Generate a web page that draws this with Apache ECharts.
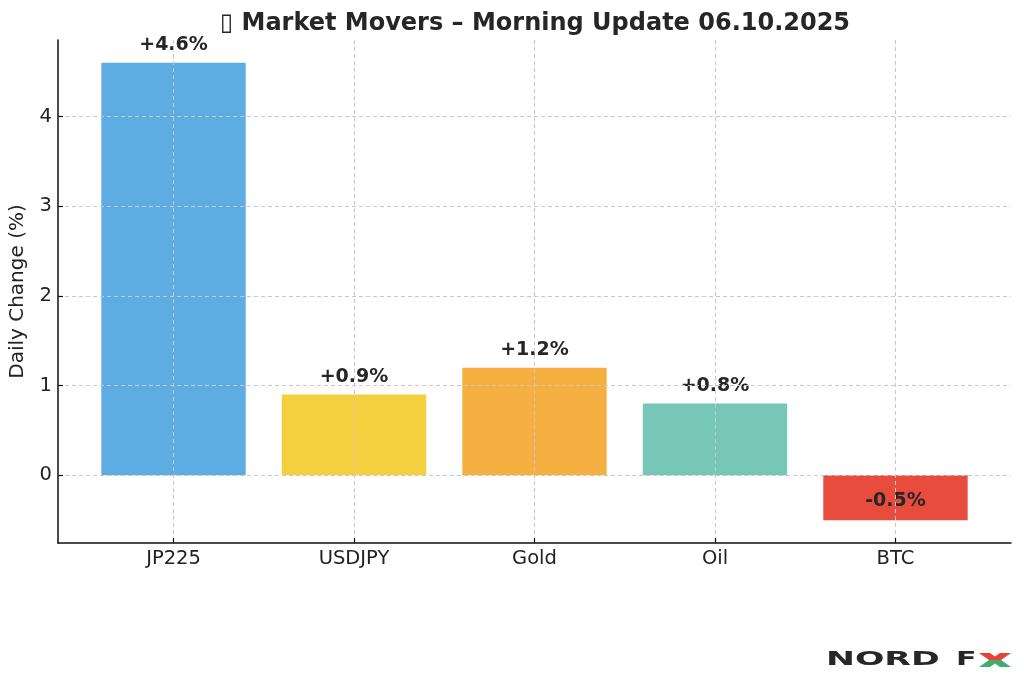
<!DOCTYPE html>
<html>
<head>
<meta charset="utf-8">
<script src="https://cdn.jsdelivr.net/npm/echarts@6/dist/echarts.min.js"></script>
<style>
html,body{margin:0;padding:0;background:#fff;}
#chart{width:1024px;height:681px;}
</style>
</head>
<body>
<div id="chart"></div>
<script>
const titleText = '\u25AF Market Movers – Morning Update 06.10.2025';
const categories = ['JP225', 'USDJPY', 'Gold', 'Oil', 'BTC'];
const values = [4.6, 0.9, 1.2, 0.8, -0.5];
const colors = ['#5DADE2', '#F4D03F', '#F5B041', '#76C7B7', '#E74C3C'];
const yTicks = [0, 1, 2, 3, 4];
const xTicks = [0, 1, 2, 3, 4];

const font = 'DejaVu Sans';
const chart = echarts.init(document.getElementById('chart'));

const data = values.map((v, i) => ({
  value: [i, v],
  itemStyle: { color: colors[i], opacity: 1 },
  label: {
    position: v >= 0 ? 'top' : 'inside',
    distance: 8,
    offset: v >= 0 ? [0, 0] : [0, 3]
  }
}));

chart.setOption({
  animation: false,
  backgroundColor: '#ffffff',
  title: {
    text: titleText,
    left: 530,
    textAlign: 'center',
    top: 7,
    textStyle: { fontFamily: font, fontWeight: 'bold', fontSize: 24, color: '#262626' }
  },
  grid: { left: 57, right: 13, top: 40, bottom: 138 },
  xAxis: {
    type: 'value',
    min: -0.64,
    max: 4.64,
    axisLine: { show: true, onZero: false, lineStyle: { color: '#111', width: 1.5 } },
    axisTick: { show: true, inside: true, customValues: xTicks, length: 5, lineStyle: { color: '#111', width: 1.2 } },
    axisLabel: {
      customValues: xTicks,
      formatter: v => categories[Math.round(v)] || '',
      fontFamily: font, fontSize: 19.5, color: '#222', margin: 6
    },
    splitLine: { show: true, lineStyle: { color: '#c8c8c8', type: [4, 3], width: 1 } },
    z: 5
  },
  yAxis: {
    type: 'value',
    min: -0.755,
    max: 4.855,
    name: 'Daily Change (%)',
    nameLocation: 'middle',
    nameGap: 30,
    nameTextStyle: { fontFamily: font, fontSize: 20, color: '#222' },
    axisLine: { show: true, onZero: false, lineStyle: { color: '#111', width: 1.5 } },
    axisTick: { show: true, inside: true, customValues: yTicks, length: 5, lineStyle: { color: '#111', width: 1.2 } },
    axisLabel: {
      customValues: yTicks,
      fontFamily: font, fontSize: 19.5, color: '#222', margin: 6
    },
    splitLine: { show: true, lineStyle: { color: '#c8c8c8', type: [4, 3], width: 1 } },
    z: 5
  },
  series: [{
    type: 'bar',
    barWidth: '80%',
    data: data,
    z: 1,
    label: {
      show: true,
      formatter: p => (p.value[1] > 0 ? '+' : '') + p.value[1].toFixed(1) + '%',
      fontFamily: font, fontWeight: 'bold', fontSize: 19, color: '#262626'
    }
  }],
  graphic: [
    {
      type: 'text', x: 826, y: 660, scaleX: 1.73,
      style: { text: 'NORD', font: 'bold 20px "DejaVu Sans"', fill: '#26262c', verticalAlign: 'middle' }
    },
    {
      type: 'text', x: 956, y: 660, scaleX: 1.5,
      style: { text: 'F', font: 'bold 20px "DejaVu Sans"', fill: '#26262c', verticalAlign: 'middle' }
    },
    {
      type: 'polygon',
      shape: { points: [[979, 653], [990, 653], [995, 656.5], [1000, 653], [1011, 653], [1001, 660], [989, 660]] },
      style: { fill: '#e8403a' }
    },
    {
      type: 'polygon',
      shape: { points: [[989, 660], [1001, 660], [1011, 667], [1000, 667], [995, 663.5], [990, 667], [979, 667]] },
      style: { fill: '#3fae6e' }
    }
  ]
});
</script>
</body>
</html>
